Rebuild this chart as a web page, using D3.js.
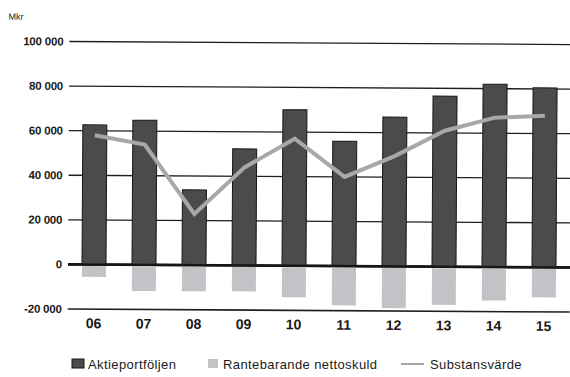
<!DOCTYPE html>
<html>
<head>
<meta charset="utf-8">
<script src="https://cdn.jsdelivr.net/npm/d3@7"></script>
<style>
  html, body { margin: 0; padding: 0; background: #fff; }
  svg { display: block; }
  text { font-family: "Liberation Sans", Arial, sans-serif; fill: #1a1a1a; }
</style>
</head>
<body>
<svg id="chart" width="570" height="377"></svg>
<script>
// Years on the x axis
const years = ["06", "07", "08", "09", "10", "11", "12", "13", "14", "15"];
// Aktieportföljen (Mkr)
const portfolio = [62700, 64900, 33800, 52300, 70000, 56000, 67000, 76500, 82000, 80500];
// Räntebärande nettoskuld (Mkr, negative)
const netDebt = [-5500, -11700, -11700, -11600, -14100, -17600, -18700, -17100, -15000, -13500];
// Substansvärde (Mkr)
const netAssetValue = [58000, 54000, 23000, 44000, 57000, 40000, 49500, 61000, 67000, 68000];
// Y axis ticks
const yTicks = [-20000, 0, 20000, 40000, 60000, 80000, 100000];

const svg = d3.select("#chart");
const g = svg.append("g").attr("transform", "rotate(0.35, 69, 265)");

const x = d3.scaleBand().domain(years).range([69, 569]).paddingInner(0.52).paddingOuter(0.26);
const y = d3.scaleLinear().domain([-20000, 100000]).range([309, 41.5]);

const fmt = v => d3.format(",")(v).replace(/,/g, "\u2009").replace("-", "-");

// Gridlines
g.append("g").selectAll("line").data(yTicks).join("line")
  .attr("x1", 68).attr("x2", 570)
  .attr("y1", d => y(d)).attr("y2", d => y(d))
  .attr("stroke", "#1e1e1e")
  .attr("stroke-width", d => d === 0 ? 2.6 : (d === -20000 ? 1.6 : 1.3));

// Y tick labels
g.append("g").selectAll("text").data(yTicks).join("text")
  .attr("x", 62).attr("y", d => y(d) + 4)
  .attr("text-anchor", "end")
  .style("font-size", "11.5px").style("font-weight", "bold")
  .style("letter-spacing", "-0.2px")
  .text(d => d === 0 ? "0" : (d < 0 ? "-" : "") + d3.format(",")(Math.abs(d)).replace(/,/g, " "));

// Unit
g.append("text").attr("x", 7).attr("y", 20)
  .style("font-size", "9px").text("Mkr");

// Net debt bars (below zero)
g.append("g").selectAll("rect").data(netDebt).join("rect")
  .attr("x", (d, i) => x(years[i]))
  .attr("width", x.bandwidth())
  .attr("y", y(0) + 1.5)
  .attr("height", d => y(d) - y(0) - 1.5)
  .attr("fill", "#c3c3c7");

// Portfolio bars
g.append("g").selectAll("rect").data(portfolio).join("rect")
  .attr("x", (d, i) => x(years[i]))
  .attr("width", x.bandwidth())
  .attr("y", d => y(d))
  .attr("height", d => y(0) - y(d))
  .attr("fill", "#4b4b4d")
  .attr("stroke", "#161616").attr("stroke-width", 1);

// Zero line on top of bars
g.append("line").attr("x1", 68).attr("x2", 570)
  .attr("y1", y(0)).attr("y2", y(0))
  .attr("stroke", "#161616").attr("stroke-width", 2.4);

// Net asset value line
const line = d3.line()
  .x((d, i) => x(years[i]) + x.bandwidth() / 2)
  .y(d => y(d));
g.append("path").datum(netAssetValue)
  .attr("d", line)
  .attr("fill", "none")
  .attr("stroke", "#a8a8aa")
  .attr("stroke-width", 4)
  .attr("stroke-linejoin", "miter");

// X labels
g.append("g").selectAll("text").data(years).join("text")
  .attr("x", d => x(d) + x.bandwidth() / 2)
  .attr("y", 328)
  .attr("text-anchor", "middle")
  .style("font-size", "14px")
  .style("font-weight", "bold")
  .text(d => d);

// Legend
const legend = svg.append("g");
legend.append("rect").attr("x", 72).attr("y", 359).attr("width", 12).attr("height", 9)
  .attr("fill", "#4b4b4d").attr("stroke", "#161616").attr("stroke-width", 1);
legend.append("text").attr("x", 88).attr("y", 369)
  .style("font-size", "13px").style("letter-spacing", "0.4px").text("Aktieportföljen");
legend.append("rect").attr("x", 208).attr("y", 359).attr("width", 10).attr("height", 9)
  .attr("fill", "#c3c3c7");
legend.append("text").attr("x", 223).attr("y", 369)
  .style("font-size", "13px").style("letter-spacing", "0.4px").text("Rantebarande nettoskuld");
legend.append("line").attr("x1", 401).attr("x2", 424).attr("y1", 364).attr("y2", 364)
  .attr("stroke", "#a8a8aa").attr("stroke-width", 2);
legend.append("text").attr("x", 430).attr("y", 369)
  .style("font-size", "13px").style("letter-spacing", "0.4px").text("Substansvärde");
</script>
</body>
</html>
